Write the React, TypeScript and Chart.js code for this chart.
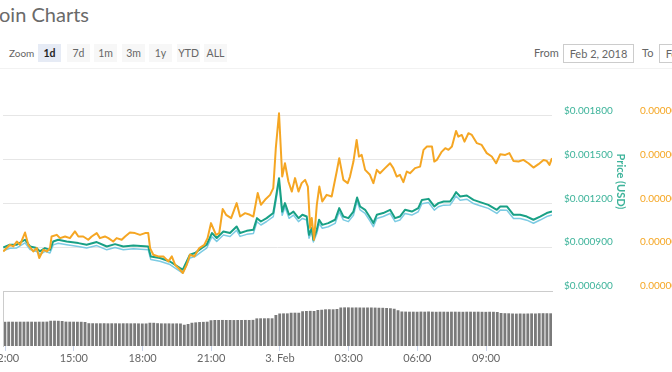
import React, { useEffect, useRef } from "react";
import { Chart, registerables } from "chart.js";

Chart.register(...registerables);

// ---------- data ----------
const xTickHours = [12, 15, 18, 21, 24, 27, 30, 33];
const xTickLabels = ["12:00", "15:00", "18:00", "21:00", "3. Feb", "03:00", "06:00", "09:00"];
const xMin = 11.908;
const xMax = 35.88;

const usdTicks = [0.0006, 0.0009, 0.0012, 0.0015, 0.0018];
const btcTicksSat = [8, 12, 16, 20, 24];

// Price (BTC), in satoshi
const btcTimes = [
  11.92, 12.21, 12.36, 12.51, 12.65, 12.87, 13.01, 13.23, 13.38, 13.49,
  13.67, 13.82, 13.96, 14.03, 14.25, 14.40, 14.62, 14.83, 15.05, 15.20,
  15.41, 15.63, 15.78, 16.00, 16.14, 16.36, 16.51, 16.72, 16.87, 17.09,
  17.24, 17.45, 17.67, 17.89, 18.11, 18.25, 18.33, 18.47, 18.69, 18.91,
  19.13, 19.28, 19.42, 19.64, 19.76, 19.93, 20.07, 20.26, 20.48, 20.70,
  20.84, 20.99, 21.21, 21.35, 21.50, 21.65, 21.87, 22.11, 22.26, 22.48,
  22.69, 22.84, 23.03, 23.17, 23.35, 23.57, 23.71, 23.82, 23.96, 24.10,
  24.22, 24.37, 24.52, 24.66, 24.81, 24.95, 25.10, 25.22, 25.32, 25.39,
  25.49, 25.61, 25.72, 25.85, 26.04, 26.26, 26.48, 26.59, 26.77, 26.96,
  27.06, 27.21, 27.35, 27.45, 27.57, 27.72, 27.93, 28.08, 28.23, 28.37,
  28.59, 28.81, 28.95, 29.10, 29.24, 29.39, 29.54, 29.68, 29.90, 30.12,
  30.27, 30.42, 30.64, 30.74, 30.85, 31.07, 31.22, 31.36, 31.51, 31.69,
  31.79, 31.94, 32.06, 32.23, 32.38, 32.60, 32.81, 33.03, 33.25, 33.44,
  33.62, 33.84, 34.02, 34.20, 34.42, 34.63, 34.85, 35.07, 35.29, 35.51,
  35.65, 35.77, 35.88,
];
const priceBtcSat = [
  11.61, 12.22, 12.07, 12.52, 12.22, 13.34, 12.22, 11.61, 11.92, 11.01,
  11.77, 11.61, 11.92, 12.98, 13.13, 12.83, 12.98, 12.83, 13.44, 12.98,
  12.98, 12.68, 12.98, 13.29, 12.83, 12.98, 12.83, 12.52, 12.83, 12.68,
  12.98, 13.34, 13.29, 13.13, 13.29, 13.29, 11.92, 11.31, 11.16, 11.16,
  10.70, 11.16, 10.40, 9.94, 9.64, 10.40, 11.31, 11.16, 11.92, 12.22,
  12.83, 14.20, 13.13, 13.29, 15.48, 14.96, 14.66, 16.03, 14.80, 15.11,
  14.96, 14.80, 16.94, 15.87, 16.33, 16.78, 17.39, 21.04, 24.23, 18.45,
  19.67, 18.00, 17.08, 18.31, 17.08, 17.85, 18.15, 17.54, 13.75, 14.66,
  12.68, 15.87, 17.54, 16.17, 16.78, 16.63, 18.91, 20.13, 18.15, 17.85,
  18.45, 19.82, 21.80, 20.28, 20.43, 19.06, 18.61, 17.85, 19.06, 18.76,
  19.22, 19.67, 19.22, 18.45, 18.61, 17.94, 18.91, 18.76, 19.22, 19.36,
  20.89, 21.19, 21.19, 19.82, 19.97, 20.73, 21.04, 20.89, 21.19, 22.62,
  22.10, 22.25, 21.64, 22.41, 22.25, 21.50, 21.34, 20.59, 20.28, 19.67,
  20.49, 20.43, 20.59, 19.88, 19.82, 19.97, 19.67, 19.27, 19.58, 19.97,
  19.88, 19.52, 20.13,
];

// Price (USD) and market cap (thousand USD)
const usdTimes = [
  11.92, 12.21, 12.51, 12.87, 13.09, 13.38, 13.52, 13.74, 13.96, 14.10,
  14.32, 14.69, 15.20, 15.56, 16.00, 16.44, 16.80, 17.16, 17.60, 18.25,
  18.36, 18.76, 19.20, 19.64, 19.76, 20.07, 20.29, 20.58, 20.80, 21.03,
  21.24, 21.53, 21.82, 22.11, 22.26, 22.55, 22.84, 23.00, 23.17, 23.42,
  23.71, 23.82, 23.96, 24.10, 24.22, 24.40, 24.59, 24.81, 24.98, 25.17,
  25.27, 25.39, 25.46, 25.61, 25.71, 25.85, 26.11, 26.41, 26.59, 26.77,
  26.99, 27.21, 27.37, 27.50, 27.72, 27.93, 28.08, 28.23, 28.51, 28.81,
  29.03, 29.24, 29.46, 29.76, 30.04, 30.20, 30.49, 30.74, 30.92, 31.15,
  31.43, 31.58, 31.69, 31.87, 32.16, 32.45, 32.74, 33.10, 33.47, 33.62,
  33.91, 34.20, 34.49, 34.78, 35.07, 35.36, 35.65, 35.88,
];
const priceUsd = [
  0.000898, 0.000917, 0.000917, 0.000951, 0.000905, 0.000894, 0.000871, 0.000894, 0.000882, 0.000939,
  0.000951, 0.000939, 0.000928, 0.000917, 0.000935, 0.000905, 0.000921, 0.000905, 0.000912, 0.000905,
  0.000837, 0.000826, 0.000802, 0.000757, 0.000746, 0.000848, 0.000860, 0.000894, 0.000917, 0.000997,
  0.000963, 0.001008, 0.000997, 0.001042, 0.000997, 0.001012, 0.001019, 0.001099, 0.001076, 0.001099,
  0.001134, 0.001236, 0.001373, 0.001144, 0.001202, 0.001122, 0.001144, 0.001099, 0.001122, 0.001110,
  0.000985, 0.001031, 0.000951, 0.001019, 0.001088, 0.001053, 0.001065, 0.001088, 0.001168, 0.001110,
  0.001099, 0.001144, 0.001240, 0.001179, 0.001156, 0.001105, 0.001065, 0.001122, 0.001134, 0.001156,
  0.001099, 0.001110, 0.001156, 0.001144, 0.001168, 0.001224, 0.001231, 0.001179, 0.001202, 0.001213,
  0.001213, 0.001247, 0.001277, 0.001247, 0.001254, 0.001224, 0.001209, 0.001190, 0.001156, 0.001179,
  0.001179, 0.001122, 0.001122, 0.001110, 0.001088, 0.001110, 0.001134, 0.001144,
];
const marketCapK = [
  876, 893, 895, 930, 884, 871, 850, 872, 860, 916,
  927, 917, 905, 894, 911, 882, 898, 883, 889, 882,
  815, 804, 781, 735, 722, 826, 836, 870, 893, 972,
  940, 984, 973, 1016, 974, 988, 994, 1074, 1052, 1076,
  1110, 1210, 1345, 1118, 1176, 1098, 1120, 1075, 1097, 1086,
  962, 1006, 936, 994, 1062, 1030, 1040, 1063, 1142, 1087,
  1075, 1119, 1214, 1155, 1131, 1081, 1041, 1097, 1110, 1131,
  1075, 1086, 1131, 1120, 1143, 1198, 1206, 1154, 1177, 1188,
  1189, 1222, 1251, 1222, 1229, 1199, 1184, 1166, 1131, 1154,
  1153, 1097, 1096, 1085, 1064, 1086, 1110, 1120,
];

// Navigator series (10-minute buckets)
const navStart = 11.99;
const navStepHours = 1 / 6;
const navValues = [
  968, 972, 972, 970, 972, 972, 974, 972, 970, 972, 972, 975,
  1010, 1012, 1008, 1000,
  975, 972, 972, 970, 968, 960,
  912, 910, 908, 908, 910, 906, 908, 908, 905, 908, 908, 906, 908, 904, 900, 902,
  930, 928, 912,
  905, 904, 905, 902, 904, 900,
  850, 880,
  930, 945, 958, 965, 972,
  1030, 1040, 1040, 1042, 1040, 1040, 1038, 1040, 1040, 1042, 1040, 1045,
  1105, 1108, 1108, 1110, 1108,
  1240,
  1300, 1305, 1305, 1330, 1332, 1330,
  1390, 1400, 1405, 1400,
  1440, 1450, 1468, 1470, 1468, 1480,
  1540, 1545, 1545, 1540, 1542, 1540, 1538, 1540, 1540, 1536, 1530, 1528, 1520, 1510, 1490,
  1430,
  1380, 1376, 1372, 1372, 1370, 1376, 1372, 1380, 1372, 1368, 1372, 1372, 1370,
  1372, 1372, 1370, 1368, 1372, 1372, 1370, 1372, 1368, 1366, 1370, 1368, 1360,
  1320, 1312, 1308, 1300, 1296, 1300, 1296, 1300, 1304, 1300, 1310, 1312, 1310, 1308,
];

const zoomButtons = ["1d", "7d", "1m", "3m", "1y", "YTD", "ALL"];
const zoomButtonLefts = [38, 67, 94, 122, 149, 177, 204];

// ---------- styles ----------
const ORANGE = "#f5a623";
const GREEN = "#18a085";
const GREEN_LABEL = "#3db39a";
const BLUE = "#7ccbe3";
const FONT = "Lato, 'Open Sans', sans-serif";

export default function App() {
  const mainRef = useRef<HTMLCanvasElement>(null);
  const navRef = useRef<HTMLCanvasElement>(null);

  useEffect(() => {
    const tickFont = { family: FONT, size: 10 };
    const noVPad = (s: any, w: number) => {
      s.width = w;
      s.paddingTop = 0;
      s.paddingBottom = 0;
    };
    const main = new Chart(mainRef.current!, {
      type: "line",
      data: {
        datasets: [
          {
            label: "Price (BTC)",
            data: btcTimes.map((t, i) => ({ x: t, y: priceBtcSat[i] })),
            borderColor: ORANGE,
            borderWidth: 2,
            pointRadius: 0,
            tension: 0,
            yAxisID: "yBtc",
            borderJoinStyle: "round",
          },
          {
            label: "Price (USD)",
            data: usdTimes.map((t, i) => ({ x: t, y: priceUsd[i] })),
            borderColor: GREEN,
            borderWidth: 2,
            pointRadius: 0,
            tension: 0,
            yAxisID: "yUsd",
            borderJoinStyle: "round",
          },
          {
            label: "Market Cap",
            data: usdTimes.map((t, i) => ({ x: t, y: marketCapK[i] })),
            borderColor: BLUE,
            borderWidth: 1.5,
            pointRadius: 0,
            tension: 0,
            yAxisID: "yCap",
            borderJoinStyle: "round",
          },
        ],
      },
      options: {
        animation: false,
        responsive: false,
        layout: { padding: { left: 3, top: 12, bottom: 9, right: 0 } },
        plugins: { legend: { display: false }, tooltip: { enabled: false } },
        scales: {
          x: { type: "linear", min: xMin, max: xMax, display: false },
          yUsd: {
            type: "linear",
            position: "right",
            min: 0.0006,
            max: 0.0021,
            afterBuildTicks: (s: any) => {
              s.ticks = usdTicks.map((v) => ({ value: v }));
            },
            afterFit: (s: any) => noVPad(s, 88),
            grid: { color: "#e6e6e6", drawTicks: false, lineWidth: 1 },
            border: { display: false },
            ticks: {
              color: GREEN_LABEL,
              font: tickFont,
              padding: 12,
              labelOffset: -5,
              callback: (v: any) => "$" + Number(v).toFixed(6),
            },
            title: {
              display: true,
              text: "Price (USD)",
              color: GREEN_LABEL,
              font: { family: FONT, size: 11, weight: "bold" },
              padding: { top: 13, bottom: 0 },
            },
          },
          yBtc: {
            type: "linear",
            position: "right",
            min: 8,
            max: 28,
            afterBuildTicks: (s: any) => {
              s.ticks = btcTicksSat.map((v) => ({ value: v }));
            },
            afterFit: (s: any) => noVPad(s, 32),
            grid: { display: false, drawTicks: false },
            border: { display: false },
            ticks: {
              color: ORANGE,
              font: tickFont,
              padding: 0,
              labelOffset: -5,
              callback: (v: any) => (Number(v) * 1e-8).toFixed(8),
            },
          },
          yCap: { type: "linear", min: 600, max: 2100, display: false },
        },
      },
    } as any);

    const nav = new Chart(navRef.current!, {
      type: "bar",
      data: {
        datasets: [
          {
            label: "Navigator",
            data: navValues.map((v, i) => ({ x: navStart + i * navStepHours, y: v })),
            backgroundColor: "#7a7a7a",
            borderWidth: 0,
            barPercentage: 0.74,
            categoryPercentage: 1,
          },
        ],
      },
      options: {
        animation: false,
        responsive: false,
        layout: { padding: { left: 3, top: 3, right: 120, bottom: 0 } },
        plugins: { legend: { display: false }, tooltip: { enabled: false } },
        scales: {
          x: {
            type: "linear",
            min: xMin,
            max: xMax,
            offset: false,
            afterBuildTicks: (s: any) => {
              s.ticks = xTickHours.map((v) => ({ value: v }));
            },
            afterFit: (s: any) => {
              s.height = 26;
              s.paddingLeft = 0;
              s.paddingRight = 0;
            },
            grid: {
              offset: false,
              drawOnChartArea: false,
              drawTicks: true,
              tickLength: 5,
              tickColor: "#ccd6eb",
            },
            border: { display: false },
            ticks: {
              color: "#666",
              font: { family: FONT, size: 11 },
              padding: 1,
              maxRotation: 0,
              autoSkip: false,
              callback: (v: any) => {
                const i = xTickHours.indexOf(Number(v));
                return i >= 0 ? xTickLabels[i] : "";
              },
            },
          },
          y: { type: "linear", min: 0, max: 2200, display: false },
        },
      },
    } as any);

    return () => {
      main.destroy();
      nav.destroy();
    };
  }, []);

  const btn = (label: string, i: number) => (
    <div
      key={label}
      style={{
        position: "absolute",
        left: zoomButtonLefts[i],
        top: 44,
        width: 23,
        height: 18,
        lineHeight: "18px",
        textAlign: "center",
        fontSize: 10.5,
        background: i === 0 ? "#e6ebf5" : "#f7f7f7",
        color: i === 0 ? "#222" : "#666",
        fontWeight: i === 0 ? 700 : 400,
      }}
    >
      {label}
    </div>
  );

  return (
    <div
      style={{
        position: "fixed",
        left: 0,
        top: 0,
        width: 672,
        height: 372,
        overflow: "hidden",
        background: "#fff",
        fontFamily: FONT,
      }}
    >
      <div
        style={{
          position: "absolute",
          left: -1,
          top: 2,
          fontSize: 20,
          color: "#6a6a6a",
          whiteSpace: "nowrap",
        }}
      >
        oin Charts
      </div>
      <div style={{ position: "absolute", left: 9, top: 44, lineHeight: "18px", fontSize: 10, color: "#666" }}>
        Zoom
      </div>
      {zoomButtons.map(btn)}
      <div style={{ position: "absolute", left: 534, top: 44, lineHeight: "18px", fontSize: 11, color: "#666" }}>
        From
      </div>
      <div
        style={{
          position: "absolute",
          left: 563,
          top: 44,
          width: 69,
          height: 17,
          border: "1px solid #ccc",
          lineHeight: "17px",
          textAlign: "center",
          fontSize: 11,
          color: "#666",
        }}
      >
        Feb 2, 2018
      </div>
      <div style={{ position: "absolute", left: 642, top: 44, lineHeight: "18px", fontSize: 11, color: "#666" }}>
        To
      </div>
      <div
        style={{
          position: "absolute",
          left: 659,
          top: 44,
          width: 69,
          height: 17,
          border: "1px solid #ccc",
          lineHeight: "17px",
          textAlign: "center",
          fontSize: 11,
          color: "#666",
          whiteSpace: "nowrap",
        }}
      >
        Feb 3, 2018
      </div>
      <div style={{ position: "absolute", left: 0, top: 68, width: 672, height: 1, background: "#f2f2f2" }} />
      <canvas
        ref={mainRef}
        width={672}
        height={240}
        style={{ position: "absolute", left: 0, top: 60, width: 672, height: 240 }}
      />
      <canvas
        ref={navRef}
        width={672}
        height={84}
        style={{ position: "absolute", left: 0, top: 288, width: 672, height: 84 }}
      />
      <div
        style={{
          position: "absolute",
          left: 3,
          top: 291,
          width: 549,
          height: 55,
          borderTop: "1px solid #cccccc",
          borderLeft: "1px solid #cccccc",
          pointerEvents: "none",
        }}
      />
    </div>
  );
}
